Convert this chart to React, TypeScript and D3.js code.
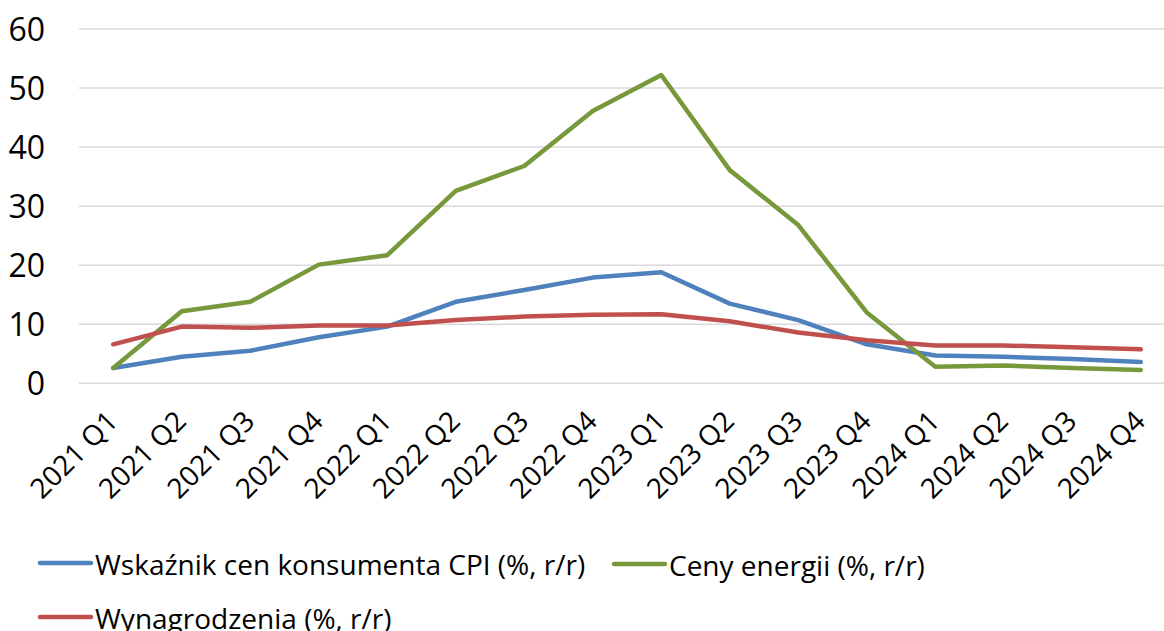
import React, { useEffect, useRef } from "react";
import * as d3 from "d3";

const quarters = [
  "2021 Q1", "2021 Q2", "2021 Q3", "2021 Q4",
  "2022 Q1", "2022 Q2", "2022 Q3", "2022 Q4",
  "2023 Q1", "2023 Q2", "2023 Q3", "2023 Q4",
  "2024 Q1", "2024 Q2", "2024 Q3", "2024 Q4",
];
const cpi = [2.6, 4.5, 5.5, 7.8, 9.6, 13.8, 15.8, 17.9, 18.8, 13.5, 10.7, 6.6, 4.7, 4.5, 4.1, 3.6];
const energy = [2.6, 12.2, 13.8, 20.1, 21.7, 32.6, 36.8, 46.1, 52.2, 36.1, 26.8, 12.0, 2.8, 3.0, 2.6, 2.25];
const wages = [6.6, 9.6, 9.4, 9.8, 9.8, 10.7, 11.3, 11.6, 11.7, 10.5, 8.6, 7.3, 6.4, 6.4, 6.1, 5.75];
const yTicks = [0, 10, 20, 30, 40, 50, 60];

const series = [
  { name: "Wskaźnik cen konsumenta CPI (%, r/r)", values: cpi, color: "#4f81bd" },
  { name: "Ceny energii (%, r/r)", values: energy, color: "#77983b" },
  { name: "Wynagrodzenia (%, r/r)", values: wages, color: "#c0504d" },
];

const W = 1164;
const H = 631;
const FONT = "'Open Sans', 'Noto Sans', sans-serif";

const LineChart = () => {
  const svgRef = useRef<SVGSVGElement | null>(null);

  useEffect(() => {
    const svg = d3.select(svgRef.current);
    svg.selectAll("*").remove();

    const left = 79;
    const right = 1175;
    const top = 29;
    const bottom = 383.3;

    const x = d3.scaleBand().domain(quarters).range([left, right]);
    const y = d3.scaleLinear().domain([0, 60]).range([bottom, top]);

    // gridlines
    svg
      .append("g")
      .selectAll("line")
      .data(yTicks)
      .enter()
      .append("line")
      .attr("x1", left)
      .attr("x2", right)
      .attr("y1", (d) => y(d))
      .attr("y2", (d) => y(d))
      .attr("stroke", "#d9d9d9")
      .attr("stroke-width", 1.5);

    // y labels
    svg
      .append("g")
      .selectAll("text")
      .data(yTicks)
      .enter()
      .append("text")
      .attr("x", 45)
      .attr("y", (d) => y(d))
      .attr("dy", "0.36em")
      .attr("text-anchor", "end")
      .attr("font-family", FONT)
      .attr("font-size", 32)
      .attr("fill", "#000")
      .text((d) => d);

    // x labels
    svg
      .append("g")
      .selectAll("text")
      .data(quarters)
      .enter()
      .append("text")
      .attr("transform", (d) => `translate(${x(d)! + x.bandwidth() / 2 + 6},${423}) rotate(-45)`)
      .attr("text-anchor", "end")
      .attr("font-family", FONT)
      .attr("font-size", 28)
      .attr("fill", "#000")
      .text((d) => d);

    const line = d3
      .line<number>()
      .x((_, i) => x(quarters[i])! + x.bandwidth() / 2)
      .y((d) => y(d));

    svg
      .append("g")
      .selectAll("path")
      .data(series)
      .enter()
      .append("path")
      .attr("d", (s) => line(s.values))
      .attr("fill", "none")
      .attr("stroke", (s) => s.color)
      .attr("stroke-width", 4.5)
      .attr("stroke-linejoin", "round")
      .attr("stroke-linecap", "round");

    // legend
    const legendPos = [
      { x: 40, y: 563 },
      { x: 614, y: 564 },
      { x: 40, y: 617 },
    ];
    const lg = svg
      .append("g")
      .selectAll("g")
      .data(series)
      .enter()
      .append("g")
      .attr("transform", (_, i) => `translate(${legendPos[i].x},${legendPos[i].y})`);
    lg.append("line")
      .attr("x1", 0)
      .attr("x2", 51)
      .attr("stroke", (s) => s.color)
      .attr("stroke-width", 4.5)
      .attr("stroke-linecap", "round");
    lg.append("text")
      .attr("x", 55)
      .attr("y", 11.5)
      .attr("font-family", FONT)
      .attr("font-size", 28)
      .attr("fill", "#000")
      .text((s) => s.name);
  }, []);

  return (
    <svg
      ref={svgRef}
      width={W}
      height={H}
      style={{ position: "absolute", left: 0, top: 0, background: "#fff" }}
    />
  );
};

const App = () => <LineChart />;

export default App;
